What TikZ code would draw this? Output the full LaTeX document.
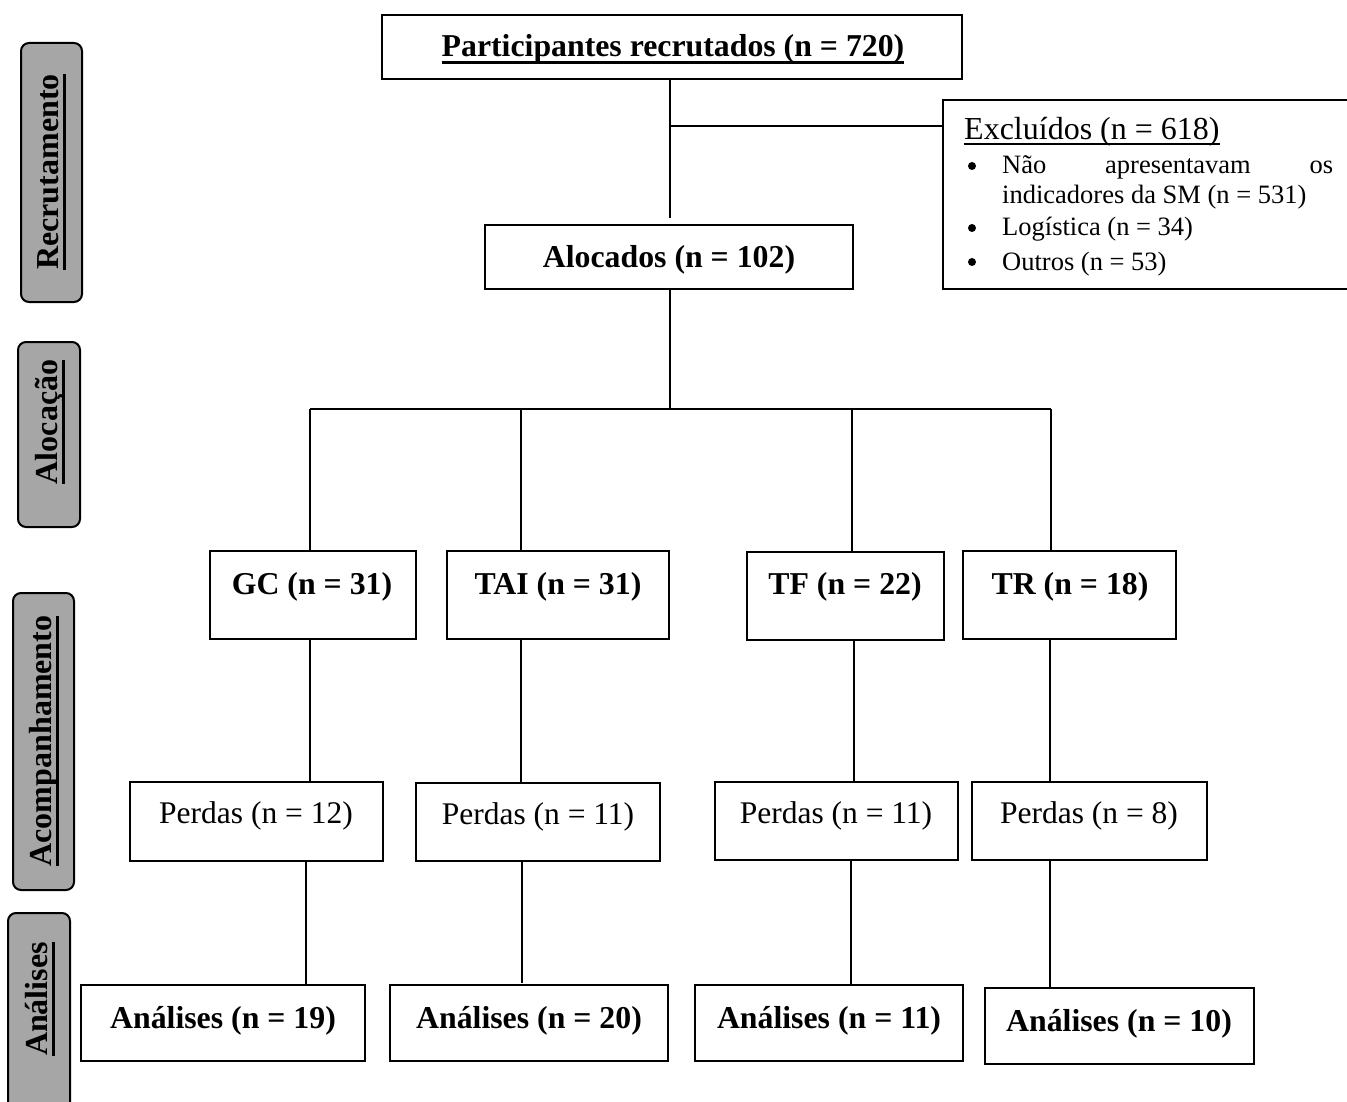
\documentclass[tikz,border=0pt]{standalone}
\usepackage{fontspec}
\setmainfont{Liberation Serif}
\definecolor{sidegray}{RGB}{166,166,166}
\newcommand{\myul}[3]{\setbox0\hbox{#3}\rlap{\rule[#2]{\wd0}{#1}}\box0}
\begin{document}
\begin{tikzpicture}[x=1pt,y=-1pt,
  box/.style={draw, line width=2pt, inner sep=0pt, rectangle},
  bt/.style={font=\fontsize{31.8}{36}\selectfont\bfseries, anchor=base, inner sep=0pt},
  rt/.style={font=\fontsize{31.5}{36}\selectfont, anchor=base, inner sep=0pt},
  lt/.style={font=\fontsize{26.5}{30}\selectfont, anchor=base west, inner sep=0pt},
  bul/.style={circle, fill=black, inner sep=0pt, minimum size=8pt},
  side/.style={draw, fill=sidegray, rounded corners=8pt, line width=2pt, inner sep=0pt},
  sidet/.style={font=\fontsize{32}{36}\selectfont\bfseries, rotate=90, inner sep=0pt},
  conn/.style={line width=2pt}]
\useasboundingbox (0,0) rectangle (1347,1102);
\clip (0,0) rectangle (1347,1102);

% side labels
\node[side, minimum width=61, minimum height=259] (s1) at (51.5,172.5) {};
\node[sidet] (s1t) at (52,172) {\myul{3pt}{-7pt}{Recrutamento}};
\node[side, minimum width=62, minimum height=185] (s2) at (49,434.5) {};
\node[sidet] (s2t) at (50,422) {\myul{3pt}{-7pt}{Alocação}};
\node[side, minimum width=61, minimum height=297] (s3) at (43.5,741.5) {};
\node[sidet] (s3t) at (44,741) {\myul{3pt}{-7pt}{Acompanhamento}};
\node[side, minimum width=62, minimum height=240] (s4) at (39,1033) {};
\node[sidet] (s4t) at (40,999) {\myul{3pt}{-7pt}{Análises}};

% boxes
\node[box, minimum width=580, minimum height=64] (P) at (672,47) {};
\node[bt] (Pt) at (673,57) {\myul{3pt}{-7pt}{Participantes recrutados (n = 720)}};
\node[box, minimum width=368, minimum height=64] (A) at (669,257) {};
\node[bt] (At) at (669,268) {Alocados (n = 102)};
\node[box, minimum width=417, minimum height=189] (X) at (1151.5,194.5) {};
\node[font=\fontsize{32}{36}\selectfont, anchor=base west, inner sep=0pt] (Xt) at (964,140) {\myul{1.5pt}{-5pt}{Excluídos (n = 618)}};
\node[bul] (b1) at (972,166) {};
\node[bul] (b2) at (972,228) {};
\node[bul] (b3) at (972,262) {};
\node[lt] (l1) at (1002,174) {\makebox[331pt][l]{Não\hfill apresentavam\hfill os}};
\node[lt] (l2) at (1002,204) {indicadores da SM (n = 531)};
\node[lt] (l3) at (1002,236) {Logística (n = 34)};
\node[lt] (l4) at (1002,270) {Outros (n = 53)};

\node[box, minimum width=206, minimum height=88] (GC) at (313,595) {};
\node[bt] (GCt) at (312,594) {GC (n = 31)};
\node[box, minimum width=222, minimum height=88] (TAI) at (558,595) {};
\node[bt] (TAIt) at (558,594) {TAI (n = 31)};
\node[box, minimum width=197, minimum height=88] (TF) at (845.5,596) {};
\node[bt] (TFt) at (845,594) {TF (n = 22)};
\node[box, minimum width=213, minimum height=88] (TR) at (1069.5,595) {};
\node[bt] (TRt) at (1070,594) {TR (n = 18)};

\node[box, minimum width=253, minimum height=79] (PG) at (256.5,821.5) {};
\node[rt] (PGt) at (256,823) {Perdas (n = 12)};
\node[box, minimum width=244, minimum height=78] (PA) at (538,822) {};
\node[rt] (PAt) at (538,824) {Perdas (n = 11)};
\node[box, minimum width=243, minimum height=78] (PF) at (836.5,821) {};
\node[rt] (PFt) at (836,823) {Perdas (n = 11)};
\node[box, minimum width=235, minimum height=78] (PR) at (1089.5,821) {};
\node[rt] (PRt) at (1089,823) {Perdas (n = 8)};

\node[box, minimum width=284, minimum height=76] (AG) at (223,1023) {};
\node[bt] (AGt) at (223,1028) {Análises (n = 19)};
\node[box, minimum width=278, minimum height=76] (AA) at (529,1023) {};
\node[bt] (AAt) at (529,1028) {Análises (n = 20)};
\node[box, minimum width=268, minimum height=76] (AF) at (829,1023) {};
\node[bt] (AFt) at (829,1028) {Análises (n = 11)};
\node[box, minimum width=269, minimum height=76] (AR) at (1119.5,1026) {};
\node[bt] (ARt) at (1119,1031) {Análises (n = 10)};

% connector coordinates
\coordinate (c1) at (670,218);
\coordinate (c2) at (670,126);
\coordinate (c3) at (670,409);
\coordinate (bl) at (310,409);
\coordinate (br) at (1051,409);
\coordinate (xa) at (521,409);
\coordinate (xf) at (852,409);
\coordinate (xg2) at (310,0);
\coordinate (xa2) at (521,0);
\coordinate (xf2) at (854,0);
\coordinate (xr2) at (1050,0);
\coordinate (xg3) at (306,0);
\coordinate (xa3) at (522,0);
\coordinate (xf3) at (851,0);
\coordinate (xr3) at (1050,0);
\coordinate (ea) at (522,983);

\draw[conn] (P.south -| c1) -- (c1);
\draw[conn] (c2) -- (c2 -| X.west);
\draw[conn] (A.south -| c3) -- (c3);
\draw[conn] (bl) -- (br);
\draw[conn] (bl) -- (bl |- GC.north);
\draw[conn] (xa) -- (xa |- TAI.north);
\draw[conn] (xf) -- (xf |- TF.north);
\draw[conn] (br) -- (br |- TR.north);

\draw[conn] (GC.south -| xg2) -- (PG.north -| xg2);
\draw[conn] (TAI.south -| xa2) -- (PA.north -| xa2);
\draw[conn] (TF.south -| xf2) -- (PF.north -| xf2);
\draw[conn] (TR.south -| xr2) -- (PR.north -| xr2);

\draw[conn] (PG.south -| xg3) -- (AG.north -| xg3);
\draw[conn] (PA.south -| xa3) -- (ea);
\draw[conn] (PF.south -| xf3) -- (AF.north -| xf3);
\draw[conn] (PR.south -| xr3) -- (AR.north -| xr3);
\end{tikzpicture}
\end{document}
